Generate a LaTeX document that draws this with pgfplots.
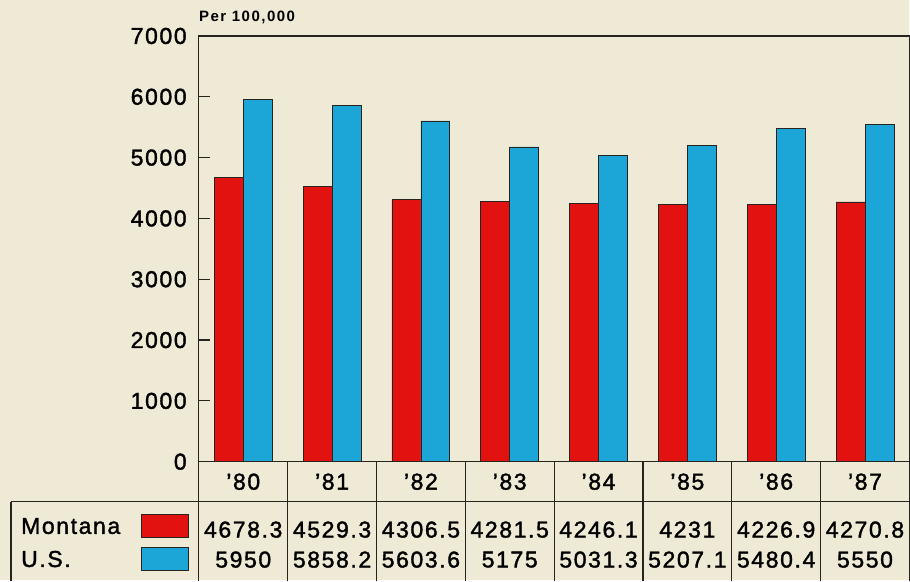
\documentclass[border=0pt]{standalone}
\usepackage{fontspec}
\usepackage{pgfplots}
\pgfplotsset{compat=1.18}
\newfontfamily\lab{Liberation Sans}[LetterSpace=7,FakeBold=1.6]
\newfontfamily\perfont{Liberation Sans Bold}[LetterSpace=10]
\newcommand{\tf}{\lab\fontsize{23bp}{27bp}\selectfont}
\definecolor{bgc}{RGB}{238,234,214}
\definecolor{mtred}{RGB}{226,18,16}
\definecolor{usblue}{RGB}{28,166,216}
\definecolor{ln}{RGB}{40,35,30}
\begin{document}
\begin{tikzpicture}
\fill[bgc] (-199bp,-118bp) rectangle (711bp,462bp);
\begin{axis}[
  at={(0,0)}, anchor=south west,
  scale only axis,
  width=711bp, height=426bp,
  xmin=-0.5, xmax=7.5,
  ymin=0, ymax=7000,
  clip=false,
  ybar=0pt, bar width=29bp,
  xtick=\empty,
  ytick={0,1000,...,7000},
  ytick pos=left,
  tick align=inside,
  major tick length=11bp,
  axis line style={draw=ln, line width=1.2bp},
  tick style={draw=ln, line width=1.2bp},
  /pgf/number format/assume math mode=true,
  /pgf/number format/set thousands separator={},
  yticklabel style={font=\tf, text=black, inner sep=0pt, xshift=-12bp},
  legend plot pos=right,
  legend image code/.code={\draw[#1,draw=ln,line width=1bp] (0bp,-11bp) rectangle (47bp,12bp);},
  legend cell align=left,
  legend style={at={(axis cs:-2.514,-860)}, anchor=north west, draw=none, fill=none,
    font=\tf, inner sep=0pt, row sep=9bp, column sep=20bp,
    nodes={inner sep=1bp}},
]
\addplot[fill=mtred, draw=ln, line width=0.8bp] coordinates {
 (0,4678.3) (1,4529.3) (2,4306.5) (3,4281.5) (4,4246.1) (5,4231) (6,4226.9) (7,4270.8)};
\addplot[fill=usblue, draw=ln, line width=0.8bp] coordinates {
 (0,5950) (1,5858.2) (2,5603.6) (3,5175) (4,5031.3) (5,5207.1) (6,5480.4) (7,5550)};
\legend{Montana, U.S.}
% table lines
\draw[ln, line width=1.2bp] (axis cs:-2.615,-657) -- (axis cs:7.5,-657);
\draw[ln, line width=1.2bp] (axis cs:-2.615,-657) -- (axis cs:-2.615,-1960);
\draw[ln, line width=1.2bp] (axis cs:-0.5,0) -- (axis cs:-0.5,-1960);
\draw[ln, line width=1.2bp] (axis cs:0.5,0) -- (axis cs:0.5,-1960);
\draw[ln, line width=1.2bp] (axis cs:1.5,0) -- (axis cs:1.5,-1960);
\draw[ln, line width=1.2bp] (axis cs:2.5,0) -- (axis cs:2.5,-1960);
\draw[ln, line width=1.2bp] (axis cs:3.5,0) -- (axis cs:3.5,-1960);
\draw[ln, line width=1.2bp] (axis cs:4.5,0) -- (axis cs:4.5,-1960);
\draw[ln, line width=1.2bp] (axis cs:5.5,0) -- (axis cs:5.5,-1960);
\draw[ln, line width=1.2bp] (axis cs:6.5,0) -- (axis cs:6.5,-1960);
\draw[ln, line width=1.2bp] (axis cs:7.5,0) -- (axis cs:7.5,-1960);
% per label
\node[font=\perfont\fontsize{15bp}{18bp}\selectfont, anchor=west, inner sep=0pt] at (axis cs:-0.5,7312) {Per 100,000};
% year labels
\node[font=\tf] at (axis cs:0,-329) {’80};
\node[font=\tf] at (axis cs:1,-329) {’81};
\node[font=\tf] at (axis cs:2,-329) {’82};
\node[font=\tf] at (axis cs:3,-329) {’83};
\node[font=\tf] at (axis cs:4,-329) {’84};
\node[font=\tf] at (axis cs:5,-329) {’85};
\node[font=\tf] at (axis cs:6,-329) {’86};
\node[font=\tf] at (axis cs:7,-329) {’87};
% values
\node[font=\tf] at (axis cs:0,-1117) {4678.3};
\node[font=\tf] at (axis cs:1,-1117) {4529.3};
\node[font=\tf] at (axis cs:2,-1117) {4306.5};
\node[font=\tf] at (axis cs:3,-1117) {4281.5};
\node[font=\tf] at (axis cs:4,-1117) {4246.1};
\node[font=\tf] at (axis cs:5,-1117) {4231};
\node[font=\tf] at (axis cs:6,-1117) {4226.9};
\node[font=\tf] at (axis cs:7,-1117) {4270.8};
\node[font=\tf] at (axis cs:0,-1610) {5950};
\node[font=\tf] at (axis cs:1,-1610) {5858.2};
\node[font=\tf] at (axis cs:2,-1610) {5603.6};
\node[font=\tf] at (axis cs:3,-1610) {5175};
\node[font=\tf] at (axis cs:4,-1610) {5031.3};
\node[font=\tf] at (axis cs:5,-1610) {5207.1};
\node[font=\tf] at (axis cs:6,-1610) {5480.4};
\node[font=\tf] at (axis cs:7,-1610) {5550};
\end{axis}
\end{tikzpicture}
\end{document}
